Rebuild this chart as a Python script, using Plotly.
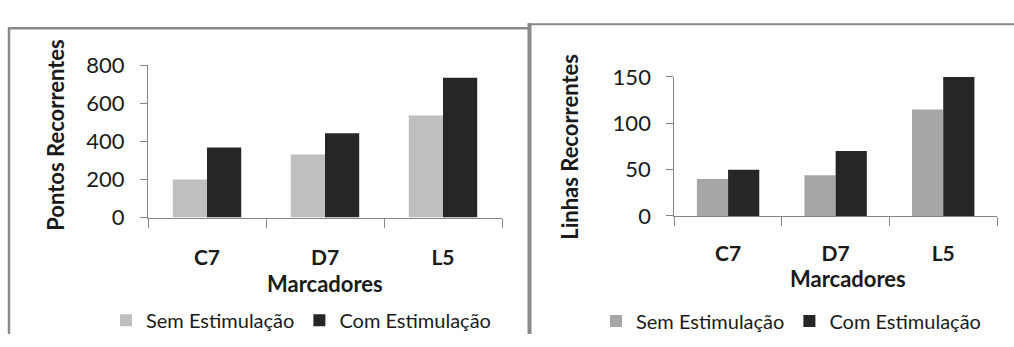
import plotly.graph_objects as go

# Data
categories = ["C7", "D7", "L5"]
series_names = ["Sem Estimulação", "Com Estimulação"]
pontos_sem = [200, 332, 537]
pontos_com = [368, 443, 735]
linhas_sem = [40, 44, 115]
linhas_com = [50, 70, 150]
pontos_ticks = [0, 200, 400, 600, 800]
linhas_ticks = [0, 50, 100, 150]

W, H = 1014, 347
FONT = "Lato"
TXT = "#1a1a1a"
AXIS = "#868686"
LIGHT_L = "#bfbfbf"
LIGHT_R = "#a6a6a6"
DARK = "#262626"


def px(x):
    return x / W


def py(y):
    return 1 - y / H


fig = go.Figure()

fig.add_trace(go.Bar(x=categories, y=pontos_sem, name=series_names[0],
                     marker=dict(color=LIGHT_L, line=dict(width=0)),
                     xaxis="x", yaxis="y", legend="legend"))
fig.add_trace(go.Bar(x=categories, y=pontos_com, name=series_names[1],
                     marker=dict(color=DARK, line=dict(width=0)),
                     xaxis="x", yaxis="y", legend="legend"))
fig.add_trace(go.Bar(x=categories, y=linhas_sem, name=series_names[0],
                     marker=dict(color=LIGHT_R, line=dict(width=0)),
                     xaxis="x2", yaxis="y2", legend="legend2"))
fig.add_trace(go.Bar(x=categories, y=linhas_com, name=series_names[1],
                     marker=dict(color=DARK, line=dict(width=0)),
                     xaxis="x2", yaxis="y2", legend="legend2"))

xcommon = dict(type="category", showline=True, linecolor=AXIS, linewidth=1,
               ticks="outside", tickson="boundaries", ticklen=9, tickcolor=AXIS,
               showgrid=False, zeroline=False, fixedrange=True,
               tickfont=dict(family=FONT, size=21, color=TXT, weight="bold"))
ycommon = dict(showline=True, linecolor=AXIS, linewidth=1,
               ticks="outside", ticklen=7, tickcolor=AXIS, ticklabelstandoff=11,
               showgrid=False, zeroline=False, fixedrange=True,
               tickfont=dict(family=FONT, size=22, color=TXT))

legend_common = dict(orientation="h", bgcolor="rgba(0,0,0,0)", borderwidth=0,
                     font=dict(family=FONT, size=20, color=TXT),
                     xanchor="left", yanchor="middle", traceorder="normal",
                     itemclick=False, itemdoubleclick=False)

fig.update_layout(
    width=W, height=H,
    margin=dict(l=0, r=0, t=0, b=0, pad=0),
    paper_bgcolor="white", plot_bgcolor="white",
    barmode="group", bargap=0.42, bargroupgap=0,
    showlegend=True,
    xaxis=dict(domain=[px(148), px(502)], anchor="y", ticklabelstandoff=21, **xcommon),
    yaxis=dict(domain=[py(220.7), py(55.7)], anchor="x", range=[0, 800],
               tickvals=pontos_ticks, **ycommon),
    xaxis2=dict(domain=[px(674.3), px(997)], anchor="y2", ticklabelstandoff=19, **xcommon),
    yaxis2=dict(domain=[py(219), py(68.3)], anchor="x2", range=[0, 150],
                tickvals=linhas_ticks, **ycommon),
    legend=dict(x=px(106), y=py(332), **legend_common),
    legend2=dict(x=px(596), y=py(333), **legend_common),
)

# Axis titles
title_font = dict(family=FONT, size=22, color=TXT, weight="bold")
fig.add_annotation(text="Pontos Recorrentes", textangle=-90, x=px(55.5), y=py(131.5),
                   xref="paper", yref="paper", showarrow=False, font=title_font,
                   xanchor="center", yanchor="middle")
fig.add_annotation(text="Linhas Recorrentes", textangle=-90, x=px(570), y=py(144),
                   xref="paper", yref="paper", showarrow=False, font=title_font,
                   xanchor="center", yanchor="middle")
fig.add_annotation(text="Marcadores", x=px(325), y=py(292),
                   xref="paper", yref="paper", showarrow=False, font=title_font,
                   xanchor="center", yanchor="middle")
fig.add_annotation(text="Marcadores", x=px(847.5), y=py(287),
                   xref="paper", yref="paper", showarrow=False, font=title_font,
                   xanchor="center", yanchor="middle")

# Panel frames
frame = "#8a8a8a"
fig.add_shape(type="line", xref="paper", yref="paper",
              x0=px(9), x1=px(9), y0=py(15), y1=py(347), line=dict(color=frame, width=2.5))
fig.add_shape(type="line", xref="paper", yref="paper",
              x0=px(8), x1=px(528), y0=py(15.5), y1=py(15.5), line=dict(color=frame, width=2.5))
fig.add_shape(type="line", xref="paper", yref="paper",
              x0=px(529.5), x1=px(529.5), y0=py(10), y1=py(347), line=dict(color=frame, width=4))
fig.add_shape(type="line", xref="paper", yref="paper",
              x0=px(528), x1=px(1014), y0=py(11), y1=py(11), line=dict(color=frame, width=2))

fig.write_html("out.html")
